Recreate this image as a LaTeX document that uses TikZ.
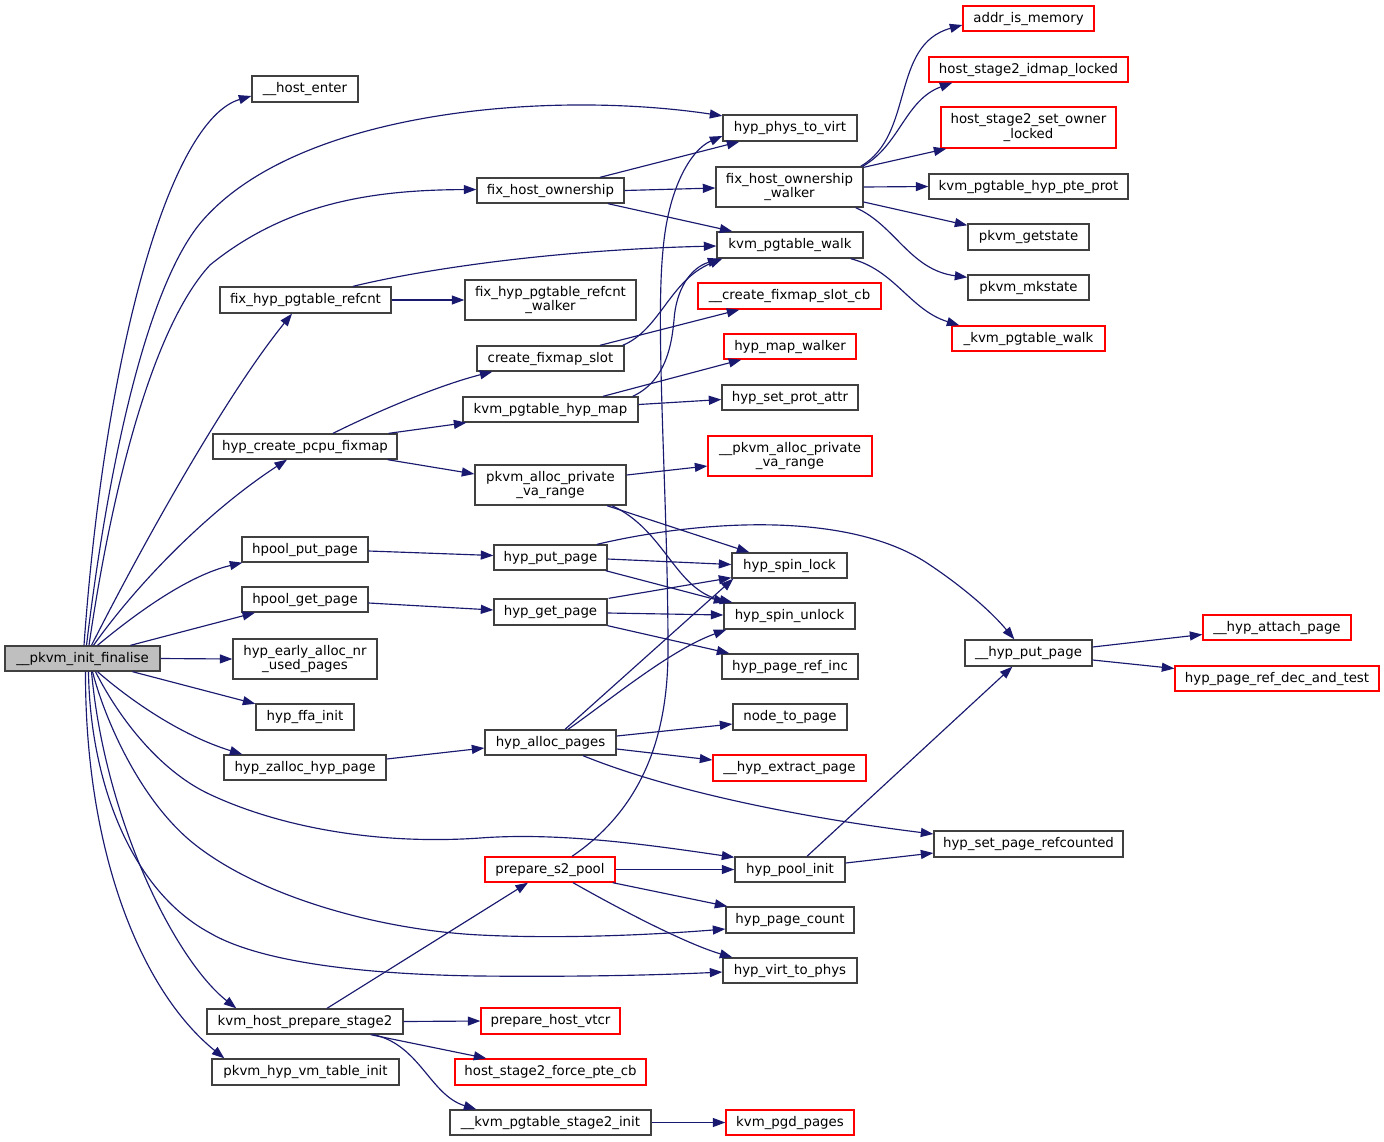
\documentclass[tikz,border=0pt]{standalone}
\usepackage{fontspec}
\setmainfont{DejaVu Sans}
\usetikzlibrary{arrows.meta,calc}
\definecolor{edgec}{HTML}{191970}
\definecolor{grey25}{HTML}{404040}
\definecolor{grey75}{HTML}{BFBFBF}
\newcommand\fsz{\fontsize{13.33pt}{13.2pt}\selectfont}
\tikzset{
 box/.style={draw=grey25, fill=white, line width=1.35pt, inner sep=0pt, font=\fsz, text height=10.3pt, text depth=2.7pt},
 twobox/.style={draw=grey25, fill=white, line width=1.35pt, inner sep=0pt, font=\fsz, align=center},
 redc/.style={draw=red},
 rootbox/.style={box, fill=grey75},
 wh/.style 2 args={minimum width=#1pt, minimum height=#2pt},
 edge/.style={draw=edgec, line width=1.15pt, -{Triangle[length=12.5pt,width=9pt]}}
}
\begin{document}
\begin{tikzpicture}[x=1pt,y=-1pt]
\fill[white] (0,0) rectangle (1384,1141);
\useasboundingbox (0,0) rectangle (1384,1141);
% column 0/1
\node[rootbox, wh={155}{25}] (root) at (82.5,658.5) {\_\_pkvm\_init\_finalise};
\node[twobox, wh={144}{40}] (early) at (305,659) {hyp\_early\_alloc\_nr\\\_used\_pages};
\node[box, wh={98}{26}] (ffa) at (305,717) {hyp\_ffa\_init};
\node[box, wh={162}{25}] (zalloc) at (305,767.5) {hyp\_zalloc\_hyp\_page};
\node[box, wh={106}{26}] (hostenter) at (305,89) {\_\_host\_enter};
\node[box, wh={171}{26}] (fhpr) at (305.5,300) {fix\_hyp\_pgtable\_refcnt};
\node[box, wh={184}{25}] (hcpf) at (305,446.5) {hyp\_create\_pcpu\_fixmap};
\node[box, wh={126}{25}] (hpput) at (305,549.5) {hpool\_put\_page};
\node[box, wh={126}{25}] (hpget) at (305,599.5) {hpool\_get\_page};
\node[box, wh={196}{25}] (khps) at (305,1021.5) {kvm\_host\_prepare\_stage2};
\node[box, wh={187}{26}] (pvti) at (305.5,1072) {pkvm\_hyp\_vm\_table\_init};
% column 2
\node[box, wh={147}{25}] (fho) at (550.5,190.5) {fix\_host\_ownership};
\node[twobox, wh={171}{40}] (fhprw) at (550.5,300) {fix\_hyp\_pgtable\_refcnt\\\_walker};
\node[box, wh={147}{25}] (cfs) at (550.5,358.5) {create\_fixmap\_slot};
\node[box, wh={175}{25}] (kphm) at (550.5,409.5) {kvm\_pgtable\_hyp\_map};
\node[twobox, wh={151}{40}] (pavr) at (550.5,485) {pkvm\_alloc\_private\\\_va\_range};
\node[box, wh={113}{25}] (hpp) at (550.5,557.5) {hyp\_put\_page};
\node[box, wh={113}{26}] (hgp) at (550.5,612) {hyp\_get\_page};
\node[box, wh={131}{25}] (hap) at (550.5,742.5) {hyp\_alloc\_pages};
\node[box, redc, wh={130}{25}] (ps2p) at (550,869.5) {prepare\_s2\_pool};
\node[box, redc, wh={139}{26}] (phv) at (550.5,1021) {prepare\_host\_vtcr};
\node[box, redc, wh={191}{26}] (hs2f) at (550.5,1072) {host\_stage2\_force\_pte\_cb};
\node[box, wh={201}{25}] (kps2i) at (550.5,1122.5) {\_\_kvm\_pgtable\_stage2\_init};
% column 3
\node[box, wh={134}{26}] (hptv) at (790,128) {hyp\_phys\_to\_virt};
\node[twobox, wh={147}{40}] (fhow) at (789.5,187) {fix\_host\_ownership\\\_walker};
\node[box, wh={146}{26}] (kpw) at (790,245) {kvm\_pgtable\_walk};
\node[box, redc, wh={183}{26}] (cfscb) at (789.5,296) {\_\_create\_fixmap\_slot\_cb};
\node[box, redc, wh={132}{25}] (hmw) at (790,346.5) {hyp\_map\_walker};
\node[box, wh={136}{25}] (hspa) at (790,397.5) {hyp\_set\_prot\_attr};
\node[twobox, redc, wh={164}{40}] (upavr) at (790,456) {\_\_pkvm\_alloc\_private\\\_va\_range};
\node[box, wh={115}{25}] (hsl) at (789.5,565.5) {hyp\_spin\_lock};
\node[box, wh={131}{26}] (hsu) at (789.5,616) {hyp\_spin\_unlock};
\node[box, wh={136}{25}] (hpri) at (790,666.5) {hyp\_page\_ref\_inc};
\node[box, wh={114}{26}] (ntp) at (790,717) {node\_to\_page};
\node[box, redc, wh={153}{26}] (hep) at (789.5,768) {\_\_hyp\_extract\_page};
\node[box, wh={110}{25}] (hpi) at (790,869.5) {hyp\_pool\_init};
\node[box, wh={128}{26}] (hpc) at (790,920) {hyp\_page\_count};
\node[box, wh={134}{25}] (hvtp) at (790,970.5) {hyp\_virt\_to\_phys};
\node[box, redc, wh={128}{25}] (kpgd) at (790,1122.5) {kvm\_pgd\_pages};
% column 4
\node[box, redc, wh={131}{25}] (aim) at (1028.5,18.5) {addr\_is\_memory};
\node[box, redc, wh={199}{25}] (hsil) at (1028.5,69.5) {host\_stage2\_idmap\_locked};
\node[twobox, redc, wh={175}{41}] (hsso) at (1028.5,127.5) {host\_stage2\_set\_owner\\\_locked};
\node[box, wh={199}{25}] (kphpp) at (1028.5,186.5) {kvm\_pgtable\_hyp\_pte\_prot};
\node[box, wh={121}{26}] (pgs) at (1028.5,237) {pkvm\_getstate};
\node[box, wh={121}{25}] (pms) at (1028.5,287.5) {pkvm\_mkstate};
\node[box, redc, wh={153}{25}] (ukpw) at (1028.5,338.5) {\_kvm\_pgtable\_walk};
\node[box, wh={127}{26}] (uhpp) at (1028.5,653) {\_\_hyp\_put\_page};
\node[box, wh={189}{26}] (hspr) at (1028.5,844) {hyp\_set\_page\_refcounted};
% column 5
\node[box, redc, wh={148}{25}] (hatt) at (1277,627.5) {\_\_hyp\_attach\_page};
\node[box, redc, wh={204}{25}] (hprdt) at (1277,678.5) {hyp\_page\_ref\_dec\_and\_test};

% ---- edges from root
\draw[edge] ($(root.north)+(1.5,0)$) .. controls (105,350) and (170,120) .. ($(hostenter.west)+(0,7)$);
\draw[edge] ($(root.north)+(4,0)$) .. controls (110,450) and (150,280) .. (203,220) .. controls (300,110) and (550,90) .. ($(hptv.north west)+(0,1.5)$);
\draw[edge] ($(root.north)+(6.5,0)$) .. controls (110,500) and (150,330) .. (210,265) .. controls (290,200) and (380,190) .. ($(fho.west)+(0,-1)$);
\draw[edge] ($(root.north)+(9,0)$) .. controls (150,530) and (230,390) .. ($(fhpr.south)+(-13.5,0)$);
\draw[edge] ($(root.north)+(11,0)$) .. controls (140,580) and (210,510) .. ($(hcpf.south)+(-18,0)$);
\draw[edge] ($(root.north)+(15,0)$) .. controls (140,610) and (190,575) .. ($(hpput.south west)+(1,0)$);
\draw[edge] ($(root.north)+(48,0)$) -- ($(hpget.south)+(-50,0)$);
\draw[edge] (root.east) -- (early.west);
\draw[edge] ($(root.south)+(50,0)$) -- ($(ffa.north west)+(0,0.5)$);
\draw[edge] ($(root.south)+(15,0)$) .. controls (130,700) and (180,735) .. ($(zalloc.north west)+(19,0)$);
\draw[edge] ($(root.south)+(13,0)$) .. controls (120,720) and (160,770) .. (207,793) .. controls (280,828) and (380,845) .. (480,838) .. controls (560,832) and (650,845) .. ($(hpi.north west)+(0,1)$);
\draw[edge] ($(root.south)+(10,0)$) .. controls (105,720) and (140,800) .. (193,843) .. controls (260,897) and (380,930) .. (480,935) .. controls (560,939) and (650,935) .. ($(hpc.west)+(0,9)$);
\draw[edge] ($(root.south)+(6,0)$) .. controls (90,780) and (130,890) .. (210,933) .. controls (270,968) and (400,975) .. (480,976) .. controls (580,977) and (660,975) .. ($(hvtp.west)+(0,1.5)$);
\draw[edge] ($(root.south)+(9,0)$) .. controls (105,820) and (175,960) .. ($(khps.north west)+(30,0)$);
\draw[edge] ($(root.south)+(3,0)$) .. controls (85,850) and (140,990) .. ($(pvti.north west)+(13,0)$);

% ---- fix_host_ownership
\draw[edge] ($(fho.north)+(49.5,0)$) -- ($(hptv.south west)+(17,0)$);
\draw[edge] (fho.east) -- ($(fhow.west)+(0,1)$);
\draw[edge] ($(fho.south)+(57.5,0)$) -- ($(kpw.north west)+(16,0)$);
% ---- fix_host_ownership_walker
\draw[edge] ($(fhow.north east)+(-3,0)$) .. controls (915,135) and (890,45) .. ($(aim.west)+(0,6.5)$);
\draw[edge] ($(fhow.north east)+(-1,0)$) .. controls (900,145) and (905,100) .. ($(hsil.south west)+(24,0)$);
\draw[edge] ($(fhow.north east)+(0,1)$) -- ($(hsso.south west)+(6,0)$);
\draw[edge] (fhow.east) -- (kphpp.west);
\draw[edge] ($(fhow.east)+(0,15)$) -- ($(pgs.north west)+(0,2)$);
\draw[edge] ($(fhow.south east)+(-8,0)$) .. controls (895,225) and (910,270) .. ($(pms.north west)+(0,3)$);
% ---- kvm_pgtable_walk
\draw[edge] ($(kpw.south east)+(-13,0)$) .. controls (895,270) and (910,310) .. ($(ukpw.north west)+(8,0)$);
% ---- fix_hyp_pgtable_refcnt
\draw[edge] ($(fhpr.north)+(47.5,0)$) .. controls (420,270) and (550,250) .. ($(kpw.west)+(0,1)$);
\draw[edge] (fhpr.east) -- (fhprw.west);
% ---- hyp_create_pcpu_fixmap
\draw[edge] ($(hcpf.north)+(28,0)$) .. controls (380,410) and (440,385) .. ($(cfs.south west)+(16,0)$);
\draw[edge] ($(hcpf.north east)+(-9,0)$) -- ($(kphm.south west)+(4,0)$);
\draw[edge] ($(hcpf.south east)+(-10,0)$) -- ($(pavr.west)+(0,-11)$);
% ---- create_fixmap_slot
\draw[edge] ($(cfs.north east)+(-2,0)$) .. controls (660,330) and (670,280) .. ($(kpw.south west)+(6,0)$);
\draw[edge] ($(cfs.north)+(49.5,0)$) -- ($(cfscb.south west)+(42,0)$);
% ---- kvm_pgtable_hyp_map
\draw[edge] ($(kphm.north)+(52.5,0)$) -- ($(hmw.south west)+(18,0)$);
\draw[edge] ($(kphm.north east)+(-6,0)$) .. controls (668,380) and (672,340) .. (674,320) .. controls (676,290) and (690,268) .. ($(kpw.south west)+(4,0)$);
\draw[edge] ($(kphm.east)+(0,-5)$) -- ($(hspa.west)+(0,2)$);
% ---- pkvm_alloc_private_va_range
\draw[edge] ($(pavr.east)+(0,-10)$) -- ($(upavr.west)+(0,10)$);
\draw[edge] ($(pavr.south)+(56.5,0)$) -- ($(hsl.north west)+(18,0)$);
\draw[edge] ($(pavr.south)+(61.5,0)$) .. controls (665,530) and (675,590) .. ($(hsu.north west)+(9,0)$);
% ---- hpool
\draw[edge] ($(hpput.east)+(0,1.5)$) -- ($(hpp.west)+(0,-2)$);
\draw[edge] ($(hpget.east)+(0,3.5)$) -- ($(hgp.west)+(0,-2)$);
% ---- hyp_put_page
\draw[edge] ($(hpp.north)+(46.5,0)$) .. controls (700,520) and (850,510) .. (930,565) .. controls (960,585) and (990,610) .. ($(uhpp.north west)+(50,0)$);
\draw[edge] ($(hpp.east)+(0,1.5)$) -- ($(hsl.west)+(0,-1)$);
\draw[edge] ($(hpp.south east)+(-2,0)$) -- ($(hsu.north west)+(3,0)$);
% ---- hyp_get_page
\draw[edge] ($(hgp.north east)+(1,0)$) -- ($(hsl.south west)+(0,-1)$);
\draw[edge] ($(hgp.east)+(0,1)$) -- ($(hsu.west)+(0,-1)$);
\draw[edge] (hgp.south east) -- ($(hpri.north west)+(8,0)$);
% ---- hyp_alloc_pages
\draw[edge] ($(hap.north)+(14.5,0)$) -- ($(hsl.south west)+(2,0)$);
\draw[edge] ($(hap.north)+(17.5,0)$) .. controls (610,700) and (670,650) .. ($(hsu.south west)+(3,0)$);
\draw[edge] ($(hap.east)+(0,-6.5)$) -- ($(ntp.west)+(0,7)$);
\draw[edge] ($(hap.east)+(0,6.5)$) -- ($(hep.west)+(0,-8)$);
\draw[edge] ($(hap.south)+(32.5,0)$) .. controls (680,795) and (820,820) .. ($(hspr.west)+(0,-10)$);
\draw[edge] ($(zalloc.east)+(0,-8.5)$) -- ($(hap.west)+(0,5.5)$);
% ---- prepare_s2_pool
\draw[edge] ($(ps2p.north)+(22,0)$) .. controls (640,810) and (668,740) .. (668,650) .. controls (668,500) and (655,330) .. (663,250) .. controls (668,190) and (690,150) .. ($(hptv.west)+(0,8)$);
\draw[edge] (ps2p.east) -- (hpi.west);
\draw[edge] ($(ps2p.south east)+(-3,0)$) -- ($(hpc.north west)+(2,0)$);
\draw[edge] ($(ps2p.south)+(23,0)$) .. controls (630,915) and (690,945) .. ($(hvtp.north west)+(10,0)$);
% ---- hyp_pool_init
\draw[edge] ($(hpi.north)+(17,0)$) -- ($(uhpp.south west)+(48,0)$);
\draw[edge] ($(hpi.east)+(0,-6.5)$) -- ($(hspr.west)+(0,9)$);
% ---- __hyp_put_page
\draw[edge] ($(uhpp.east)+(0,-6)$) -- ($(hatt.west)+(0,7)$);
\draw[edge] ($(uhpp.east)+(0,7)$) -- ($(hprdt.west)+(0,-10)$);
% ---- kvm_host_prepare_stage2
\draw[edge] ($(khps.north)+(22,0)$) -- ($(ps2p.south)+(-22,0)$);
\draw[edge] (khps.east) -- (phv.west);
\draw[edge] ($(khps.south east)+(-33,0)$) -- ($(hs2f.north west)+(32,0)$);
\draw[edge] ($(khps.south east)+(-30,0)$) .. controls (420,1045) and (430,1095) .. ($(kps2i.north west)+(27,0)$);
\draw[edge] (kps2i.east) -- (kpgd.west);
\end{tikzpicture}
\end{document}
